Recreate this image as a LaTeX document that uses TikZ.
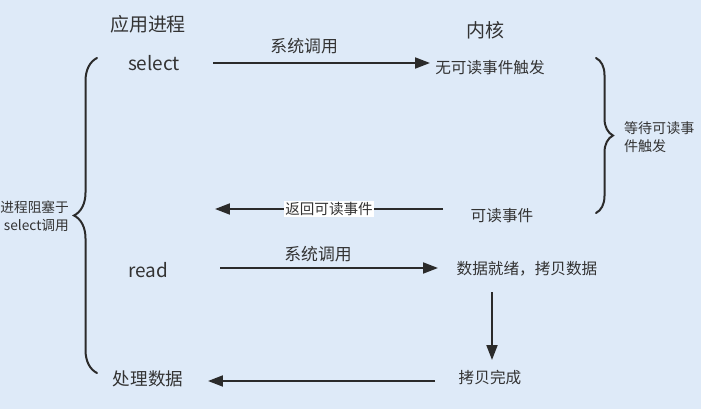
\documentclass[tikz,border=0pt]{standalone}
\usepackage{fontspec}
\setmainfont{Noto Sans CJK SC}
\usetikzlibrary{arrows.meta, positioning, calc, decorations.pathreplacing}
\definecolor{bgblue}{HTML}{DEEAF8}
\definecolor{ink}{HTML}{333333}
\definecolor{wire}{HTML}{2B2B2B}

\begin{document}
\begin{tikzpicture}[
    x=0.02cm, y=-0.02cm,
    head/.style={text=ink, font=\fontsize{10.8pt}{13pt}\selectfont, inner sep=1pt},
    kern/.style={text=ink, font=\fontsize{8.9pt}{11pt}\selectfont, inner sep=1pt},
    lbl/.style={text=ink, font=\fontsize{9.6pt}{11pt}\selectfont, inner sep=1pt},
    note/.style={text=ink, font=\fontsize{8pt}{10.4pt}\selectfont, inner sep=1pt},
    dep/.style={-{Triangle[length=3mm,width=2.2mm]}, line width=0.4mm, draw=wire},
    curly/.style={decorate, decoration={brace, amplitude=#1}, line width=0.4mm, draw=wire, line cap=round}
]

% background and page size
\useasboundingbox (0,0) rectangle (701,409);
\clip (0,0) rectangle (701,409);
\fill[bgblue] (0,0) rectangle (701,409);

% column titles
\node[head] (app) at (148,24) {应用进程};
\node[head] (kernel) at (485,30) {内核};

% application side
\node[head] (select) at (154,63) {select};
\node[head] (read) at (148,270) {read};
\node[head, font=\fontsize{10pt}{12pt}\selectfont] (handle) at (148,379) {处理数据};

% kernel side
\node[kern] (noevent) at (490,68) {无可读事件触发};
\node[kern] (ready) at (502,216) {可读事件};
\node[kern] (copydata) at (527,269) {数据就绪，拷贝数据};
\node[kern] (done) at (490,378) {拷贝完成};

% free end of the return arrow
\coordinate (retend) at (215,209);

% calls and returns
\draw[dep] ($(select)+(59,0)$) -- ($(noevent)+(-60,-5)$)
    node[lbl, pos=0.42, above=1.2mm] {系统调用};
\draw[dep] ($(ready)+(-59,-7)$) -- (retend)
    node[note, pos=0.5, fill=white, inner sep=0.5pt, font=\fontsize{8.3pt}{10pt}\selectfont] {返回可读事件};
\draw[dep] ($(read)+(72,-2)$) -- ($(copydata)+(-89,-1)$)
    node[lbl, pos=0.45, above=0.6mm] {系统调用};
\draw[dep] ($(copydata)+(-35,23)$) -- ($(done)+(2,-18)$);
\draw[dep] ($(done)+(-55,3)$) -- ($(handle)+(60,2)$);

% braces
\draw[curly=4.6mm] (97,373) -- (97,58);
\node[note, anchor=east, align=right, font=\fontsize{7.8pt}{10.4pt}\selectfont] (blocked) at (71,216) {进程阻塞于\\select调用};

\draw[curly=3.4mm] (596,58) -- (596,213);
\node[note, anchor=west, align=left] (waiting) at (622,137) {等待可读事\\件触发};

\end{tikzpicture}
\end{document}
